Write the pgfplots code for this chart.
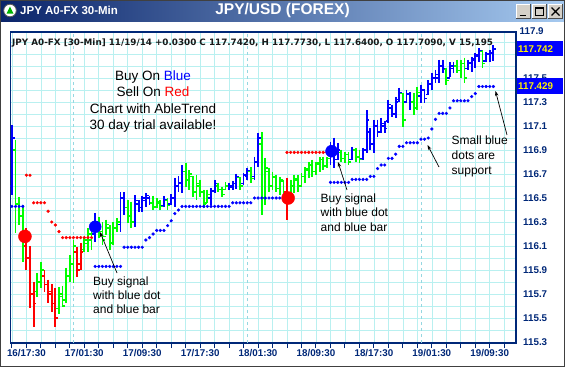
\documentclass[border=0pt]{standalone}
\usepackage{pgfplots}
\pgfplotsset{compat=1.18}
\usepackage{pgfplotstable}
\usepackage{fontspec}
\setmainfont{Liberation Sans}
\newfontfamily\hdrfont{DejaVu Sans}
\usetikzlibrary{arrows.meta}
\definecolor{navy}{RGB}{0,40,120}
\definecolor{gridc}{RGB}{185,240,240}
\definecolor{dayc}{RGB}{150,215,225}
\definecolor{bblue}{RGB}{0,0,255}
\definecolor{bgreen}{RGB}{0,255,0}
\definecolor{bred}{RGB}{255,0,0}
\definecolor{tleft}{RGB}{10,36,106}
\definecolor{tright}{RGB}{166,202,240}
\definecolor{btn}{RGB}{212,208,200}

% i = bar index (0 = 16/15:30, 30-min bars); c: 0 blue, 1 green, 2 red
\pgfplotstableread{
i c H L O C
0 0 117.108 116.525 116.60 117.00
1 1 116.983 116.208 116.90 116.45
2 1 116.508 116.275 116.45 116.35
3 1 116.442 115.967 116.35 116.10
4 2 116.250 115.900 116.10 116.00
5 2 116.100 115.583 116.00 115.70
6 2 115.800 115.425 115.70 115.62
7 1 115.875 115.675 115.72 115.80
8 1 115.967 115.750 115.80 115.90
9 2 115.900 115.717 115.85 115.78
10 2 115.817 115.625 115.78 115.70
11 2 115.783 115.550 115.72 115.62
12 2 115.750 115.425 115.62 115.50
13 1 115.758 115.533 115.58 115.70
14 1 115.767 115.592 115.68 115.60
15 1 115.917 115.625 115.65 115.85
16 1 116.025 115.800 115.85 115.95
17 1 116.150 115.792 115.95 116.10
18 2 116.092 115.842 116.05 115.90
19 2 116.125 115.900 115.95 116.05
20 1 116.175 116.050 116.07 116.15
21 1 116.250 116.050 116.12 116.20
22 1 116.275 116.067 116.15 116.22
23 0 116.375 116.133 116.20 116.30
24 1 116.342 116.167 116.30 116.22
25 1 116.300 116.108 116.22 116.15
26 1 116.317 116.192 116.18 116.28
27 1 116.275 116.067 116.25 116.12
28 1 116.300 116.108 116.13 116.25
29 1 116.333 116.217 116.25 116.30
30 0 116.550 116.217 116.28 116.50
31 0 116.550 116.358 116.50 116.42
32 1 116.483 116.292 116.42 116.35
33 1 116.467 116.250 116.35 116.30
34 0 116.525 116.258 116.30 116.48
35 0 116.483 116.383 116.45 116.42
36 0 116.517 116.383 116.42 116.50
37 0 116.542 116.425 116.48 116.52
38 0 116.517 116.442 116.50 116.46
39 1 116.517 116.400 116.46 116.42
40 1 116.500 116.417 116.43 116.47
41 1 116.483 116.400 116.46 116.43
42 0 116.517 116.425 116.44 116.49
43 1 116.500 116.400 116.48 116.44
44 0 116.533 116.442 116.45 116.50
45 0 116.667 116.425 116.50 116.60
46 0 116.683 116.550 116.60 116.63
47 0 116.775 116.542 116.62 116.72
48 1 116.792 116.592 116.72 116.65
49 1 116.733 116.567 116.65 116.70
50 1 116.683 116.508 116.68 116.55
51 1 116.692 116.483 116.55 116.62
52 1 116.650 116.508 116.60 116.55
53 1 116.567 116.417 116.55 116.45
54 1 116.567 116.458 116.46 116.53
55 0 116.583 116.442 116.50 116.56
56 0 116.650 116.542 116.56 116.62
57 1 116.625 116.550 116.60 116.57
58 1 116.592 116.508 116.57 116.53
59 1 116.633 116.567 116.57 116.60
60 0 116.625 116.567 116.60 116.60
61 0 116.642 116.567 116.59 116.62
62 0 116.700 116.575 116.62 116.68
63 1 116.675 116.567 116.67 116.60
64 0 116.708 116.608 116.62 116.69
65 0 116.750 116.650 116.68 116.73
66 1 116.758 116.625 116.72 116.66
67 0 116.842 116.650 116.68 116.80
68 0 117.042 116.758 116.80 117.00
69 1 117.050 116.358 116.95 116.50
70 1 116.833 116.442 116.50 116.75
71 1 116.750 116.550 116.72 116.60
72 1 116.717 116.567 116.60 116.68
73 1 116.692 116.550 116.67 116.58
74 1 116.675 116.525 116.58 116.65
75 1 116.650 116.508 116.64 116.55
76 2 116.667 116.317 116.55 116.48
77 1 116.650 116.500 116.50 116.60
78 1 116.692 116.542 116.60 116.66
79 1 116.692 116.550 116.65 116.60
80 1 116.708 116.592 116.60 116.68
81 1 116.758 116.625 116.68 116.74
82 1 116.800 116.667 116.73 116.78
83 1 116.817 116.675 116.77 116.72
84 1 116.800 116.692 116.72 116.79
85 1 116.842 116.717 116.78 116.82
86 1 116.842 116.733 116.82 116.76
87 1 116.842 116.750 116.77 116.83
88 0 116.967 116.775 116.83 116.92
89 0 117.000 116.750 116.92 116.82
90 0 116.958 116.817 116.82 116.90
91 1 116.900 116.800 116.88 116.83
92 1 116.883 116.792 116.83 116.86
93 1 116.883 116.775 116.86 116.80
94 0 116.925 116.817 116.82 116.90
95 1 116.917 116.800 116.90 116.84
96 1 116.900 116.792 116.84 116.82
97 0 116.917 116.817 116.83 116.90
98 0 117.233 116.875 116.90 117.15
99 0 117.083 116.900 117.05 116.95
100 0 117.150 116.875 116.95 117.10
101 0 117.150 117.008 117.10 117.05
102 0 117.167 117.042 117.05 117.12
103 0 117.142 117.042 117.10 117.08
104 0 117.317 117.125 117.14 117.28
105 0 117.275 117.175 117.25 117.20
106 0 117.342 117.167 117.20 117.30
107 0 117.417 117.300 117.32 117.38
108 1 117.375 117.092 117.37 117.15
109 0 117.400 117.292 117.30 117.37
110 0 117.383 117.233 117.36 117.30
111 1 117.375 117.192 117.30 117.25
112 1 117.425 117.233 117.25 117.38
113 0 117.442 117.292 117.35 117.40
114 0 117.400 117.292 117.40 117.33
115 0 117.483 117.358 117.36 117.45
116 0 117.542 117.400 117.45 117.50
117 0 117.567 117.458 117.50 117.53
118 0 117.650 117.458 117.50 117.60
119 0 117.650 117.542 117.60 117.58
120 1 117.583 117.442 117.57 117.48
121 0 117.633 117.508 117.50 117.60
122 0 117.633 117.542 117.58 117.60
123 1 117.650 117.542 117.60 117.56
124 1 117.650 117.500 117.56 117.62
125 1 117.667 117.458 117.62 117.50
126 0 117.650 117.567 117.58 117.63
127 0 117.675 117.550 117.62 117.66
128 0 117.708 117.583 117.65 117.69
129 0 117.750 117.633 117.68 117.73
130 1 117.733 117.583 117.72 117.62
131 0 117.717 117.633 117.64 117.70
132 0 117.733 117.633 117.70 117.71
133 0 117.773 117.640 117.709 117.742
}\bars

% support (small blue dots)
\pgfplotstableread{
i v
0 116.43
1 116.43
2 116.43
3 116.43
23 115.93
24 115.93
25 115.93
26 115.93
27 115.93
28 115.93
29 115.93
30 115.93
31 116.09
32 116.09
33 116.09
34 116.09
35 116.09
36 116.09
37 116.15
38 116.17
39 116.20
40 116.23
41 116.23
42 116.23
43 116.27
44 116.31
45 116.37
46 116.40
47 116.43
48 116.43
49 116.43
50 116.43
51 116.43
52 116.43
53 116.43
54 116.43
55 116.43
56 116.43
57 116.43
58 116.43
59 116.43
60 116.43
61 116.46
62 116.46
63 116.46
64 116.46
65 116.46
66 116.46
67 116.50
68 116.50
69 116.50
70 116.50
71 116.50
72 116.50
73 116.50
74 116.50
75 116.50
88 116.63
89 116.63
90 116.63
91 116.63
92 116.63
93 116.63
94 116.655
95 116.655
96 116.655
97 116.655
98 116.655
99 116.68
100 116.68
101 116.745
102 116.775
103 116.775
104 116.83
105 116.83
106 116.865
107 116.93
108 116.93
109 116.96
110 116.96
111 116.96
112 116.96
113 116.99
114 116.99
115 117.00
116 117.075
117 117.155
118 117.205
119 117.205
120 117.205
121 117.25
122 117.31
123 117.31
124 117.31
125 117.31
126 117.31
127 117.345
128 117.37
129 117.429
130 117.429
131 117.429
132 117.429
133 117.429
}\support

% resistance (small red dots)
\pgfplotstableread{
i v
4 116.69
5 116.69
6 116.46
7 116.46
8 116.46
9 116.46
10 116.39
11 116.30
12 116.275
13 116.22
14 116.17
15 116.17
16 116.17
17 116.17
18 116.17
19 116.17
20 116.17
21 116.17
22 116.17
76 116.88
77 116.88
78 116.88
79 116.88
80 116.88
81 116.88
82 116.88
83 116.88
84 116.88
85 116.88
86 116.88
87 116.88
}\resist

\pgfplotsset{nomark/.style={only marks, mark=*, mark size=0pt, mark options={draw=none, fill=none}, forget plot}}
\newcommand{\ohlc}[2]{%
 \addplot[nomark,
   restrict expr to domain={\thisrow{c}}{#1:#1},
   error bars/.cd, y dir=minus, y explicit, error mark=none,
   error bar style={draw=#2, line width=1.8pt}]
   table[x=i, y=H, y error expr=\thisrow{H}-\thisrow{L}] {\bars};
 \addplot[nomark,
   restrict expr to domain={\thisrow{c}}{#1:#1},
   error bars/.cd, x dir=minus, x fixed=0.75, error mark=none,
   error bar style={draw=#2, line width=1.4pt}]
   table[x=i, y=O] {\bars};
 \addplot[nomark,
   restrict expr to domain={\thisrow{c}}{#1:#1},
   error bars/.cd, x dir=plus, x fixed=0.75, error mark=none,
   error bar style={draw=#2, line width=1.4pt}]
   table[x=i, y=C] {\bars};
}

\begin{document}
\begin{tikzpicture}[x=1pt,y=1pt]
\useasboundingbox (0,0) rectangle (565,367);
\fill[white] (0,0) rectangle (565,367);
% title bar
\shade[left color=tleft, right color=tright] (0,345.5) rectangle (565,367);
\fill[white] (10,356.5) circle (6.3);
\draw[gray!70!black, line width=0.8pt] (10,356.5) circle (6.3);
\fill[green!70!black] (6.5,353.3) -- (13.5,353.3) -- (10,360.5) -- cycle;
\node[anchor=west, text=white, font=\bfseries\fontsize{11.5}{13}\selectfont, inner sep=0] at (20,356.5) {JPY A0-FX 30-Min};
\node[text=white, font=\bfseries\fontsize{15.5}{17}\selectfont, inner sep=0] at (282.5,356.3) {JPY/USD (FOREX)};
% window buttons
\foreach \bx in {516,532,548}{
  \fill[btn] (\bx,348) rectangle (\bx+15,363);
  \draw[white, line width=0.8pt] (\bx+0.4,348.4) -- (\bx+0.4,362.6) -- (\bx+14.6,362.6);
  \draw[black!70, line width=0.8pt] (\bx+0.4,348.4) -- (\bx+14.6,348.4) -- (\bx+14.6,362.6);
}
\draw[black, line width=1.6pt] (519.5,351.5) -- (525.5,351.5);
\draw[black, line width=0.8pt] (535.5,351.2) rectangle (543.5,359.5);
\draw[black, line width=1.6pt] (535.5,359.2) -- (543.5,359.2);
\draw[black, line width=1.4pt] (551.5,351.5) -- (559.5,359.5) (551.5,359.5) -- (559.5,351.5);

\begin{axis}[
  at={(10.5pt,24pt)}, anchor=south west,
  scale only axis, width=505.5pt, height=311pt,
  xmin=-0.39, xmax=139.25, ymin=115.292, ymax=117.883,
  axis line style={navy, line width=1.3pt},
  xtick={0,4,...,136},
  xticklabels={,16/17:30,,,,17/01:30,,,,17/09:30,,,,17/17:30,,,,18/01:30,,,,18/09:30,,,,18/17:30,,,,19/01:30,,,,19/09:30,,,},
  xtick pos=bottom, tick align=outside,
  major tick length=5pt,
  xtick style={navy, line width=1pt},
  ytick={115.3,115.4,115.5,115.6,115.7,115.8,115.9,116.0,116.1,116.2,116.3,116.4,116.5,116.6,116.7,116.8,116.9,117.0,117.1,117.2,117.3,117.4,117.5,117.6,117.7,117.8},
  yticklabels={115.3,,115.5,,115.7,,115.9,,116.1,,116.3,,116.5,,116.7,,116.9,,117.1,,117.3,,117.5,,,},
  yticklabel pos=right, ytick pos=right,
  ytick style={draw=none},
  grid=major,
  major grid style={gridc, line width=0.6pt},
  extra x ticks={17,65,113}, extra x tick labels={},
  extra x tick style={grid=major, major grid style={dayc, dashed, line width=0.6pt}, tick style={draw=none}},
  xticklabel style={navy, font=\bfseries\fontsize{9.8}{11}\selectfont, inner sep=1pt},
  yticklabel style={navy, font=\bfseries\fontsize{9.8}{11}\selectfont, anchor=west, inner sep=1pt, xshift=1pt},
]
\ohlc{0}{bblue}
\ohlc{1}{bgreen}
\ohlc{2}{bred}
\addplot[only marks, mark=*, mark size=1.4pt, bblue] table[x=i, y=v] {\support};
\addplot[only marks, mark=*, mark size=1.4pt, bred] table[x=i, y=v] {\resist};
\addplot[only marks, mark=*, mark size=6.5pt, bred] coordinates {(3.6,116.18) (76.3,116.50)};
\addplot[only marks, mark=*, mark size=6pt, bblue] coordinates {(23,116.26) (88.3,116.89)};
\end{axis}

\node[anchor=west, navy, font=\bfseries\fontsize{9.8}{11}\selectfont, inner sep=1pt] at (518.5,336) {117.9};
% header line
\begin{scope}
\clip (11,316) rectangle (497,332);
\node[anchor=west, text=black!90, font=\hdrfont\bfseries\fontsize{8.8}{10}\selectfont, inner sep=0] at (12,324) {JPY A0-FX [30-Min] 11/19/14 +0.0300 C 117.7420, H 117.7730, L 117.6400, O 117.7090, V 15,195};
\end{scope}
% price boxes
\fill[bblue] (516.5,310.5) rectangle (563,326);
\node[anchor=west, text=yellow, font=\bfseries\fontsize{9.8}{11}\selectfont, inner sep=0] at (518,318.2) {117.742};
\fill[bblue] (516.5,273) rectangle (563,288.5);
\node[anchor=west, text=yellow, font=\bfseries\fontsize{9.8}{11}\selectfont, inner sep=0] at (518,280.7) {117.429};

% annotations
\node[align=center, font=\fontsize{13.5}{16.3}\selectfont, inner sep=0] at (153,265.5) {Buy On \textcolor{bblue}{Blue}\\Sell On \textcolor{bred}{Red}\\Chart with AbleTrend\\30 day trial available!};
\node[anchor=north west, align=left, font=\fontsize{12}{14.2}\selectfont, inner sep=0] at (93,90.5) {Buy signal\\with blue dot\\and blue bar};
\node[anchor=north west, align=left, font=\fontsize{12}{14.6}\selectfont, inner sep=0] at (320.5,173.5) {Buy signal\\with blue dot\\and blue bar};
\node[anchor=north west, align=left, font=\fontsize{12}{15}\selectfont, inner sep=0] at (451.5,231) {Small blue\\dots are\\support};
\draw[-{Stealth[length=5pt,width=3.5pt]}, line width=0.7pt] (117,94) -- (100,135);
\draw[-{Stealth[length=5pt,width=3.5pt]}, line width=0.7pt] (347,177) -- (338,205);
\draw[-{Stealth[length=5pt,width=3.5pt]}, line width=0.7pt] (439,200) -- (427.5,222);
\draw[-{Stealth[length=5pt,width=3.5pt]}, line width=0.7pt] (507,232) -- (495.5,276);
% window border
\draw[black!75, line width=1pt] (0.5,0.5) rectangle (564.5,366.5);
\end{tikzpicture}
\end{document}
